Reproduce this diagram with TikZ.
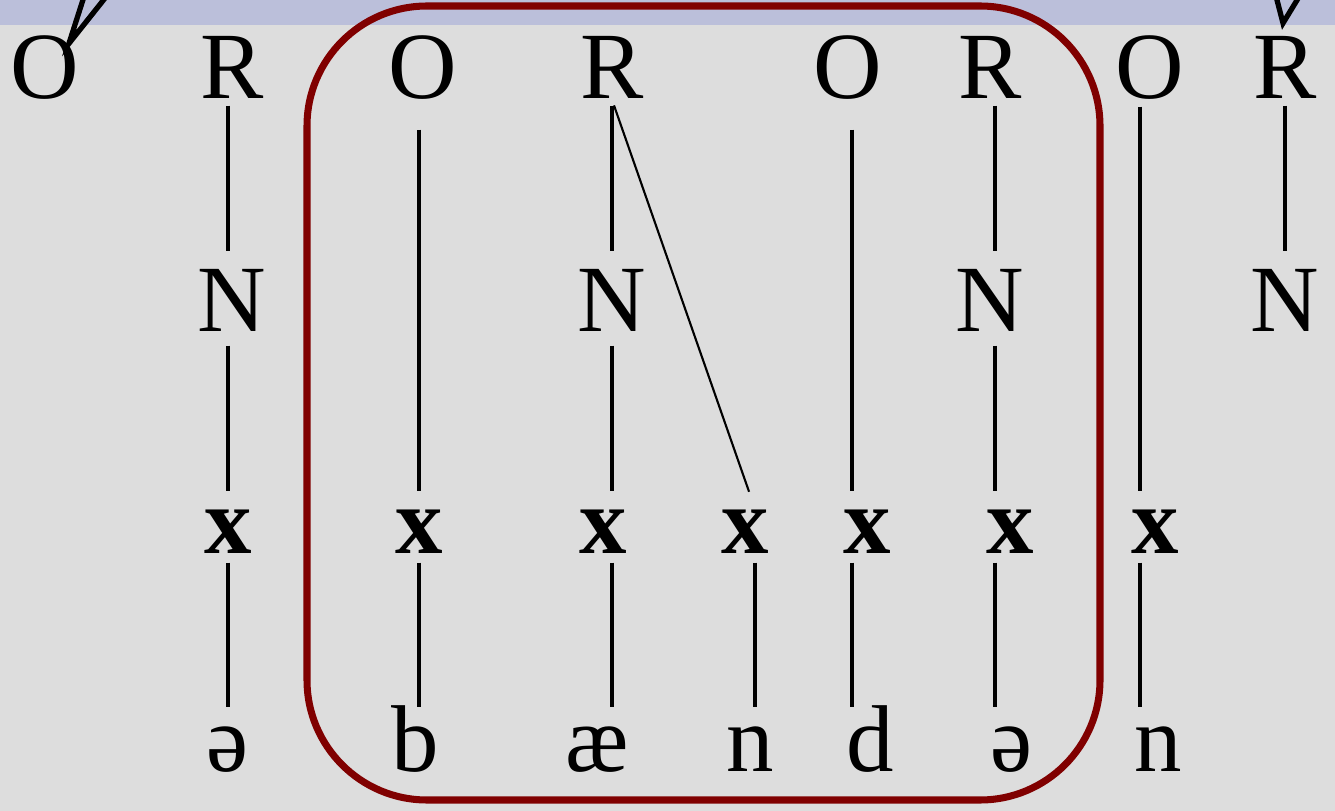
\documentclass[tikz,border=0pt]{standalone}
\usepackage{fontspec}
\setmainfont{Liberation Serif}
\usetikzlibrary{calc}
\definecolor{bggray}{RGB}{221,221,221}
\definecolor{bandblue}{RGB}{187,191,218}
\definecolor{framered}{RGB}{128,0,0}

\begin{document}
\begin{tikzpicture}[x=0.1mm,y=-0.1mm,
  every node/.style={font=\fontsize{27}{30}\selectfont,inner sep=0pt,anchor=base},
  seg/.style={text height=4.5mm,text depth=0pt},
  branch/.style={line width=1.1pt,shorten >=1.8mm}]
  \useasboundingbox (0,0) rectangle (1335,811);
  \fill[bggray] (0,0) rectangle (1335,811);
  \fill[bandblue] (0,0) rectangle (1335,25);
  % column lines
  \foreach \i/\cx in {0/228,1/419,2/612,3/755,4/852,5/995,6/1140,7/1285}
    \coordinate (c\i) at (\cx,0);
  % syllable tiers
  \node (O0) at (45,99) {O};
  \node (R0) at (232,99) {R};
  \node (O1) at (423,99) {O};
  \node (R2) at (612,99) {R};
  \node (O4) at (848,99) {O};
  \node (R5) at (990,99) {R};
  \node (O6) at (1150,99) {O};
  \node (R7) at (1285,99) {R};
  \node (N0) at (232,332) {N};
  \node (N2) at (612,332) {N};
  \node (N5) at (990,332) {N};
  \node (N7) at (1285,332) {N};
  % skeleton
  \node (x0) at (228,553) {\textbf{x}};
  \node (x1) at (419,553) {\textbf{x}};
  \node (x2) at (603,553) {\textbf{x}};
  \node (x3) at (745,553) {\textbf{x}};
  \node (x4) at (867,553) {\textbf{x}};
  \node (x5) at (1010,553) {\textbf{x}};
  \node (x6) at (1155,553) {\textbf{x}};
  % segments
  \node[seg] (s0) at (228,771) {ə};
  \node[seg] (b1) at (415,771) {b};
  \node[seg] (ae2) at (597,771) {æ};
  \node[seg] (n3) at (750,771) {n};
  \node[seg] (d4) at (870,771) {d};
  \node[seg] (s5) at (1012,771) {ə};
  \node[seg] (n6) at (1158,771) {n};
  \foreach \a/\b/\c/\s in {R0/N0/c0/0.6,N0/x0/c0/1.3,x0/s0/c0/0.9,
      O1/x1/c1/2.9,x1/b1/c1/0.9,
      R2/N2/c2/0.6,N2/x2/c2/1.3,x2/ae2/c2/0.9,
      x3/n3/c3/0.9,
      O4/x4/c4/2.9,x4/d4/c4/0.9,
      R5/N5/c5/0.6,N5/x5/c5/1.3,x5/s5/c5/0.9,
      O6/x6/c6/0.6,x6/n6/c6/0.9,
      R7/N7/c7/0.6}
    \draw[branch,shorten <=\s mm] (\a.south -| \c) -- (\b.north -| \c);
  \draw[line width=0.6pt,shorten <=0.6mm,shorten >=1.8mm] (R2.south -| c2) -- (x3.north -| c3);
  % links to the syllables above
  \coordinate (upL1) at (115,-100);
  \coordinate (upL2) at (183,-100);
  \coordinate (upR1) at (1251,-100);
  \coordinate (upR2) at (1358,-100);
  \begin{scope}
    \clip (0,0) rectangle (1335,811);
    \draw[line width=1.5pt] (upL1) -- ($(O0.north east)+(-11,8)$) -- (upL2);
    \draw[line width=1.5pt] (upR1) -- ($(R7.north)+(-2,-13)$) -- (upR2);
  \end{scope}
  % the frame
  \draw[framered,line width=2pt,rounded corners=12mm] (307,6) rectangle (1100,800);
\end{tikzpicture}
\end{document}
